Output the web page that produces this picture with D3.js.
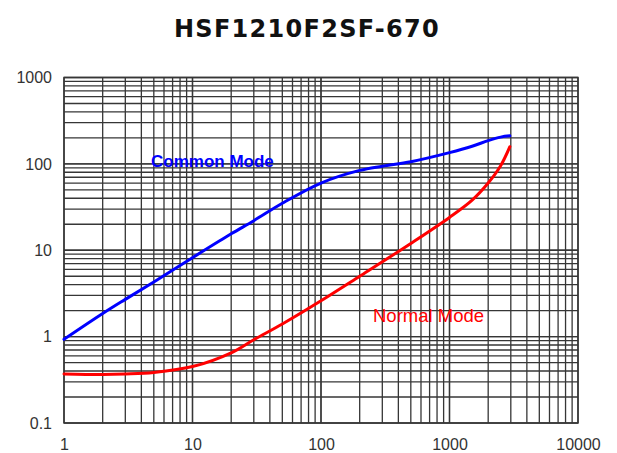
<!DOCTYPE html>
<html>
<head>
<meta charset="utf-8">
<script src="https://cdn.jsdelivr.net/npm/d3@7"></script>
<style>
  html, body { margin: 0; padding: 0; background: #fff; }
  svg { display: block; }
</style>
</head>
<body>
<svg id="chart" width="617" height="453"></svg>
<script>
const title = "HSF1210F2SF-670";
const xTicks = [1, 10, 100, 1000, 10000];
const yTicks = [0.1, 1, 10, 100, 1000];
const xTickLabels = ["1", "10", "100", "1000", "10000"];
const yTickLabels = ["0.1", "1", "10", "100", "1000"];

const commonFreq = [1, 2, 3, 5, 10, 20, 30, 50, 100, 200, 300, 500, 1000, 1500, 2000, 2500, 2950];
const commonVals = [0.93, 1.85, 2.7, 4.3, 8.2, 15.5, 22, 35, 60, 84, 94, 106, 135, 160, 186, 204, 211];

const normalFreq = [1, 2, 3, 5, 10, 20, 30, 50, 100, 200, 500, 1000, 1500, 2000, 2500, 2950];
const normalVals = [0.37, 0.365, 0.37, 0.385, 0.45, 0.65, 0.92, 1.4, 2.6, 5.0, 12, 24, 38, 60, 95, 158];

const seriesNames = ["Common Mode", "Normal Mode"];
const seriesColors = ["#0000ff", "#ff0000"];

(function () {
const svg = d3.select("#chart");
const pl = 64, pr = 578, pt = 77.5, pb = 423;

const x = d3.scaleLog().domain([1, 10000]).range([pl, pr]);
const y = d3.scaleLog().domain([0.1, 1000]).range([pb, pt]);

// title
svg.append("text")
  .attr("x", 307).attr("y", 37)
  .attr("text-anchor", "middle")
  .style("font-family", "'DejaVu Sans', Verdana, sans-serif")
  .style("font-weight", "bold")
  .style("font-size", "24px")
  .style("letter-spacing", "1.3px")
  .attr("fill", "#111")
  .text(title);

// grid
const gridColor = "#363636";
const g = svg.append("g");
const xGrid = [];
for (let d = 1; d < 10000; d *= 10) for (let k = 1; k <= 10; k++) xGrid.push(d * k);
const yGrid = [];
for (let d = 0.1; d < 1000; d *= 10) for (let k = 1; k <= 10; k++) yGrid.push(+(d * k).toPrecision(3));

g.selectAll("line.v").data(xGrid).enter().append("line")
  .attr("x1", d => x(d)).attr("x2", d => x(d))
  .attr("y1", pt).attr("y2", pb)
  .attr("stroke", gridColor).attr("stroke-width", 1.3);
g.selectAll("line.h").data(yGrid).enter().append("line")
  .attr("y1", d => y(d)).attr("y2", d => y(d))
  .attr("x1", pl).attr("x2", pr)
  .attr("stroke", gridColor).attr("stroke-width", 1.3);
g.append("rect").attr("x", pl).attr("y", pt)
  .attr("width", pr - pl).attr("height", pb - pt)
  .attr("fill", "none").attr("stroke", gridColor).attr("stroke-width", 1.5);

// axes labels
const xAxis = d3.axisBottom(x).tickValues(xTicks)
  .tickFormat((d, i) => xTickLabels[i]).tickSize(0).tickPadding(16);
const xa = svg.append("g").attr("transform", `translate(0,${pb})`).call(xAxis);
xa.select(".domain").remove();
xa.selectAll("text").style("font-family", "'Liberation Sans', Arial, sans-serif")
  .style("font-size", "16px").attr("fill", "#333");

const yAxis = d3.axisLeft(y).tickValues(yTicks)
  .tickFormat((d, i) => yTickLabels[i]).tickSize(0).tickPadding(12);
const ya = svg.append("g").attr("transform", `translate(${pl},0)`).call(yAxis);
ya.select(".domain").remove();
ya.selectAll("text").style("font-family", "'Liberation Sans', Arial, sans-serif")
  .style("font-size", "16px").attr("fill", "#333");

// curves
const line = d3.line().x(d => x(d[0])).y(d => y(d[1])).curve(d3.curveCatmullRom.alpha(0.5));
const seriesData = [
  d3.zip(commonFreq, commonVals),
  d3.zip(normalFreq, normalVals)
];
seriesData.forEach((data, i) => {
  svg.append("path").datum(data)
    .attr("d", line)
    .attr("fill", "none")
    .attr("stroke", seriesColors[i])
    .attr("stroke-width", 3)
    .attr("stroke-linejoin", "round")
    .attr("stroke-linecap", "round");
});

// series labels
svg.append("text")
  .attr("x", 151).attr("y", 167)
  .style("font-family", "'Liberation Sans', Arial, sans-serif")
  .style("font-weight", "bold")
  .style("font-size", "17px")
  .attr("fill", seriesColors[0])
  .text(seriesNames[0]);
svg.append("text")
  .attr("x", 373).attr("y", 322)
  .style("font-family", "'Liberation Sans', Arial, sans-serif")
  .style("font-size", "18.5px")
  .attr("fill", seriesColors[1])
  .text(seriesNames[1]);
})();
</script>
</body>
</html>
